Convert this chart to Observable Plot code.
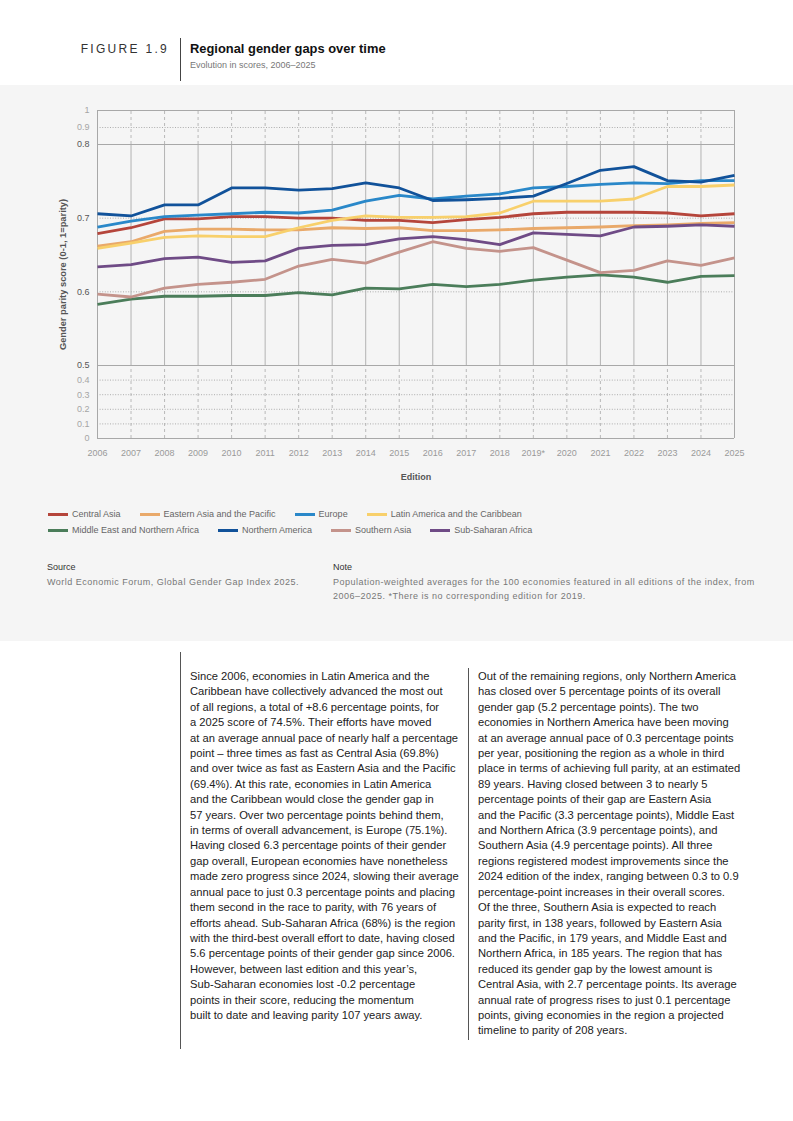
<!DOCTYPE html>
<html>
<head>
<meta charset="utf-8">
<script src="https://cdn.jsdelivr.net/npm/d3@7"></script>
<script src="https://cdn.jsdelivr.net/npm/@observablehq/plot@0.6"></script>
<style>
  html, body { margin: 0; padding: 0; background: #fff; }
  body { width: 793px; height: 1121px; position: relative; overflow: hidden;
         font-family: "Liberation Sans", Arial, Helvetica, sans-serif; color: #222; }
  .abs { position: absolute; }
  #figno { left: 0; width: 169px; top: 42px; text-align: right; font-size: 12px; letter-spacing: 2.3px; color: #333; }
  #hline { left: 180px; top: 38px; width: 1px; height: 43px; background: #444; }
  #title { left: 190px; top: 41px; font-size: 12.9px; font-weight: bold; color: #111; }
  #subtitle { left: 190px; top: 60px; font-size: 9px; color: #777; }
  #panel { left: 0; top: 85px; width: 793px; height: 556px; background: #f5f5f5; }
  #chart { left: 0; top: 85px; }
  .legrow { position: absolute; left: 48px; display: flex; align-items: center; font-size: 9px; color: #666; white-space: nowrap; }
  .legitem { display: flex; align-items: center; margin-right: 19px; }
  .sw { width: 20px; height: 3px; margin-right: 4px; }
  .lbl { font-size: 9px; color: #333; }
  .src { font-size: 9px; letter-spacing: 0.5px; color: #777; line-height: 14px; white-space: nowrap; }
  .col { position: absolute; font-size: 11.2px; line-height: 15.4px; color: #222; white-space: nowrap; }
  .vline { position: absolute; width: 1px; background: #555; }
</style>
</head>
<body>
<div id="panel" class="abs"></div>
<div id="figno" class="abs">FIGURE 1.9</div>
<div id="hline" class="abs"></div>
<div id="title" class="abs">Regional gender gaps over time</div>
<div id="subtitle" class="abs">Evolution in scores, 2006–2025</div>
<div id="chart" class="abs"></div>
<div id="leg1" class="legrow" style="top:509px"></div>
<div id="leg2" class="legrow" style="top:525px"></div>
<div class="abs lbl" style="left:47px; top:562px;">Source</div>
<div class="abs src" style="left:47px; top:575px;">World Economic Forum, Global Gender Gap Index 2025.</div>
<div class="abs lbl" style="left:333px; top:562px;">Note</div>
<div class="abs src" style="left:333px; top:575px;">Population-weighted averages for the 100 economies featured in all editions of the index, from<br>2006–2025. *There is no corresponding edition for 2019.</div>
<div class="vline" style="left:180px; top:652px; height:397px;"></div>
<div class="vline" style="left:468px; top:668px; height:372px;"></div>
<div id="colL" class="col" style="left:190px; top:669px;"></div>
<div id="colR" class="col" style="left:478px; top:669px;"></div>
<script>
const years = [2006,2007,2008,2009,2010,2011,2012,2013,2014,2015,2016,2017,2018,2019,2020,2021,2022,2023,2024,2025];
const yearLabels = ["2006","2007","2008","2009","2010","2011","2012","2013","2014","2015","2016","2017","2018","2019*","2020","2021","2022","2023","2024","2025"];
const regions = ["Central Asia","Eastern Asia and the Pacific","Europe","Latin America and the Caribbean","Middle East and Northern Africa","Northern America","Southern Asia","Sub-Saharan Africa"];
const colors = ["#b5453b","#e9a96a","#2a88c9","#f8d06b","#4b7d5a","#11529a","#c4938b","#6f4b86"];

const centralAsia     = [0.679,0.687,0.699,0.699,0.702,0.702,0.700,0.700,0.697,0.697,0.694,0.698,0.701,0.706,0.708,0.708,0.708,0.707,0.703,0.706];
const eastAsiaPacific = [0.662,0.668,0.682,0.685,0.685,0.684,0.684,0.687,0.686,0.687,0.683,0.683,0.684,0.686,0.687,0.688,0.690,0.691,0.693,0.694];
const europe          = [0.688,0.696,0.702,0.704,0.706,0.708,0.707,0.711,0.723,0.731,0.726,0.730,0.733,0.741,0.743,0.746,0.748,0.747,0.751,0.751];
const latinAmerica    = [0.659,0.666,0.674,0.676,0.675,0.675,0.687,0.697,0.703,0.701,0.701,0.702,0.707,0.723,0.723,0.723,0.726,0.743,0.743,0.745];
const mena            = [0.583,0.590,0.594,0.594,0.595,0.595,0.599,0.596,0.605,0.604,0.610,0.607,0.610,0.616,0.620,0.623,0.620,0.613,0.621,0.622];
const northAmerica    = [0.706,0.703,0.718,0.718,0.741,0.741,0.738,0.740,0.748,0.741,0.724,0.725,0.727,0.730,0.747,0.765,0.770,0.751,0.749,0.758];
const southAsia       = [0.597,0.593,0.605,0.610,0.613,0.617,0.635,0.644,0.639,0.654,0.668,0.659,0.655,0.660,0.643,0.626,0.629,0.642,0.636,0.646];
const subSaharan      = [0.634,0.637,0.645,0.647,0.640,0.642,0.659,0.663,0.664,0.672,0.675,0.671,0.664,0.680,0.678,0.676,0.688,0.689,0.691,0.689];

const seriesValues = [centralAsia, eastAsiaPacific, europe, latinAmerica, mena, northAmerica, southAsia, subSaharan];
const data = [];
regions.forEach((r, k) => years.forEach((yr, i) => data.push({region: r, year: yr, value: seriesValues[k][i]})));

const majorTicks = [0.5,0.6,0.7,0.8];
const minorTicks = [0,0.1,0.2,0.3,0.4,0.9,1];
const fmt = d => d === 0 ? "0" : d === 1 ? "1" : d.toFixed(1);
const innerYears = years.slice(1, -1);
const edgeYears = [years[0], years[years.length - 1]];

const chart = Plot.plot({
  width: 793,
  height: 420,
  marginLeft: 97,
  marginRight: 59,
  marginTop: 25,
  marginBottom: 67,
  style: {fontFamily: '"Liberation Sans", Arial, Helvetica, sans-serif', fontSize: "9px", background: "transparent", overflow: "visible"},
  x: {domain: [2006, 2025]},
  y: {type: "linear", domain: [0, 0.5, 0.8, 1], range: [353, 280, 59, 25]},
  color: {domain: regions, range: colors},
  marks: [
    Plot.ruleY([0.1,0.2,0.3,0.4,0.6,0.7,0.9], {stroke: "#9a9a9a", strokeWidth: 0.8, strokeDasharray: "1,1.6"}),
    Plot.ruleX(innerYears, {y1: 0.5, y2: 0.8, stroke: "#b3b3b3", strokeWidth: 1}),
    Plot.ruleX(innerYears, {y1: 0, y2: 0.5, stroke: "#aaaaaa", strokeWidth: 0.8, strokeDasharray: "3,3"}),
    Plot.ruleX(innerYears, {y1: 0.8, y2: 1, stroke: "#aaaaaa", strokeWidth: 0.8, strokeDasharray: "3,3"}),
    Plot.ruleX(edgeYears, {y1: 0, y2: 1, stroke: "#a8a8a8", strokeWidth: 1}),
    Plot.ruleY([0, 0.5, 0.8, 1], {stroke: "#a8a8a8", strokeWidth: 1}),
    Plot.line(data, {x: "year", y: "value", z: "region", stroke: "region", strokeWidth: 2.8, strokeLinejoin: "round", strokeLinecap: "butt"}),
    Plot.axisX({ticks: years, tickSize: 0, tickPadding: 11, tickFormat: d => yearLabels[years.indexOf(d)], fill: "#9a9a9a", fontSize: 9, label: null}),
    Plot.axisY({ticks: majorTicks, tickSize: 0, tickPadding: 8, tickFormat: fmt, fill: "#555", fontSize: 9, label: null}),
    Plot.axisY({ticks: minorTicks, tickSize: 0, tickPadding: 8, tickFormat: fmt, fill: "#a5a5a5", fontSize: 9, label: null}),
    Plot.text(["Edition"], {frameAnchor: "bottom", dy: 41, fontWeight: "bold", fill: "#555", fontSize: 9}),
    Plot.text(["Gender parity score (0-1, 1=parity)"], {frameAnchor: "left", dx: -34, rotate: -90, textAnchor: "middle", fontWeight: "bold", fill: "#555", fontSize: 9.3})
  ]
});
document.getElementById("chart").appendChild(chart);

// legend
const rows = [[0,1,2,3],[4,5,6,7]];
rows.forEach((row, ri) => {
  const el = document.getElementById(ri === 0 ? "leg1" : "leg2");
  row.forEach(k => {
    const it = document.createElement("div");
    it.className = "legitem";
    const sw = document.createElement("div");
    sw.className = "sw";
    sw.style.background = colors[k];
    const tx = document.createElement("span");
    tx.textContent = regions[k];
    it.appendChild(sw); it.appendChild(tx);
    el.appendChild(it);
  });
});

const leftLines = [
"Since 2006, economies in Latin America and the",
"Caribbean have collectively advanced the most out",
"of all regions, a total of +8.6 percentage points, for",
"a 2025 score of 74.5%. Their efforts have moved",
"at an average annual pace of nearly half a percentage",
"point – three times as fast as Central Asia (69.8%)",
"and over twice as fast as Eastern Asia and the Pacific",
"(69.4%). At this rate, economies in Latin America",
"and the Caribbean would close the gender gap in",
"57 years. Over two percentage points behind them,",
"in terms of overall advancement, is Europe (75.1%).",
"Having closed 6.3 percentage points of their gender",
"gap overall, European economies have nonetheless",
"made zero progress since 2024, slowing their average",
"annual pace to just 0.3 percentage points and placing",
"them second in the race to parity, with 76 years of",
"efforts ahead. Sub-Saharan Africa (68%) is the region",
"with the third-best overall effort to date, having closed",
"5.6 percentage points of their gender gap since 2006.",
"However, between last edition and this year’s,",
"Sub-Saharan economies lost -0.2 percentage",
"points in their score, reducing the momentum",
"built to date and leaving parity 107 years away."
];
const rightLines = [
"Out of the remaining regions, only Northern America",
"has closed over 5 percentage points of its overall",
"gender gap (5.2 percentage points). The two",
"economies in Northern America have been moving",
"at an average annual pace of 0.3 percentage points",
"per year, positioning the region as a whole in third",
"place in terms of achieving full parity, at an estimated",
"89 years. Having closed between 3 to nearly 5",
"percentage points of their gap are Eastern Asia",
"and the Pacific (3.3 percentage points), Middle East",
"and Northern Africa (3.9 percentage points), and",
"Southern Asia (4.9 percentage points). All three",
"regions registered modest improvements since the",
"2024 edition of the index, ranging between 0.3 to 0.9",
"percentage-point increases in their overall scores.",
"Of the three, Southern Asia is expected to reach",
"parity first, in 138 years, followed by Eastern Asia",
"and the Pacific, in 179 years, and Middle East and",
"Northern Africa, in 185 years. The region that has",
"reduced its gender gap by the lowest amount is",
"Central Asia, with 2.7 percentage points. Its average",
"annual rate of progress rises to just 0.1 percentage",
"points, giving economies in the region a projected",
"timeline to parity of 208 years."
];
function fill(id, lines) {
  const el = document.getElementById(id);
  lines.forEach(l => { const d = document.createElement("div"); d.textContent = l; el.appendChild(d); });
}
fill("colL", leftLines);
fill("colR", rightLines);
</script>
</body>
</html>
